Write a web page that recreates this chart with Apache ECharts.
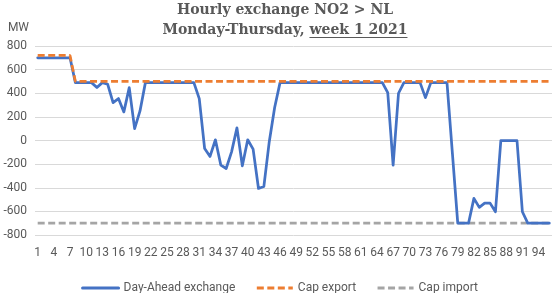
<!DOCTYPE html>
<html><head><meta charset="utf-8">
<script src="https://cdn.jsdelivr.net/npm/echarts@6/dist/echarts.min.js"></script>
<style>html,body{margin:0;padding:0;background:#fff}#c{width:559px;height:293px}</style>
</head><body><div id="c"></div>
<script>
const hours = Array.from({length: 96}, (_, i) => String(i + 1));
const dayAhead = [
  700,700,700,700,700,700,700,
  490,490,490,490,448,490,476,321,355,242,448,101,250,
  490,490,490,490,490,490,490,490,490,490,
  355,-68,-135,6,-208,-237,-96,107,-214,6,-73,-406,-389,-10,279,
  490,490,490,490,490,490,490,490,490,490,490,490,490,490,490,490,490,490,490,490,
  405,-208,400,490,490,490,490,363,490,490,490,490,-105,
  -700,-700,-700,-490,-566,-530,-530,-603,0,0,0,0,-603,
  -700,-700,-700,-700,-700
];
const capExport = hours.map((h, i) => i < 7 ? 720 : 500);
const capImport = hours.map(() => -700);
const yTicks = { min: -800, max: 800, step: 200 };

const FONT = 'Roboto';
const TFONT = '"DejaVu Serif"';
const line2 = 'Monday-Thursday, ';
const line2u = 'week 1 2021';
const TSIZE = 14;

const chart = echarts.init(document.getElementById('c'));
const cv = document.createElement('canvas').getContext('2d');
cv.font = 'bold ' + TSIZE + 'px ' + TFONT;
const wAll = cv.measureText(line2 + line2u).width;
const wPre = cv.measureText(line2).width;
const cx = 285;
const ux0 = cx - wAll / 2 + wPre, ux1 = cx + wAll / 2;

chart.setOption({
  animation: false,
  title: {
    left: cx, top: 0, padding: 0, textAlign: 'center',
    text: 'Hourly exchange NO2 > NL\n' + line2 + '{u|' + line2u + '}',
    textStyle: { fontFamily: TFONT, fontSize: TSIZE, fontWeight: 'bold', color: '#595959', lineHeight: 20,
      rich: { u: { fontFamily: TFONT, fontSize: TSIZE, fontWeight: 'bold', color: '#595959', lineHeight: 20 } } }
  },
  graphic: [{ type: 'line', shape: { x1: ux0, y1: 37.5, x2: ux1, y2: 37.5 }, style: { stroke: '#595959', lineWidth: 1 } }],
  grid: { left: 35, right: 7, top: 46, bottom: 58, containLabel: false },
  legend: {
    top: 277, left: 'center', itemWidth: 36, itemHeight: 12, itemGap: 20,
    lineStyle: { width: 3 }, itemStyle: { opacity: 0 },
    textStyle: { fontFamily: FONT, fontSize: 12, color: '#595959' },
    data: ['Day-Ahead exchange', 'Cap export', 'Cap import']
  },
  xAxis: {
    type: 'category', data: hours, boundaryGap: true,
    axisLine: { show: false }, axisTick: { show: false },
    axisLabel: { interval: 2, fontFamily: FONT, fontSize: 12, color: '#595959', margin: 12, hideOverlap: false }
  },
  yAxis: {
    type: 'value', min: yTicks.min, max: yTicks.max, interval: yTicks.step,
    name: 'MW', nameLocation: 'end', nameGap: 12,
    nameTextStyle: { fontFamily: FONT, fontSize: 12, color: '#595959', align: 'right', padding: [0, 6, 0, 0] },
    axisLine: { show: false }, axisTick: { show: false },
    axisLabel: { fontFamily: FONT, fontSize: 12, color: '#595959', margin: 8 },
    splitLine: { lineStyle: { color: '#d9d9d9', width: 1 } }
  },
  series: [
    { name: 'Day-Ahead exchange', type: 'line', data: dayAhead, symbol: 'none', z: 3,
      lineStyle: { color: '#4472C4', width: 2.75, cap: 'round', join: 'round' }, itemStyle: { color: '#4472C4' } },
    { name: 'Cap export', type: 'line', data: capExport, symbol: 'none', z: 4,
      lineStyle: { color: '#ED7D31', width: 2.75, type: [7, 3.5] }, itemStyle: { color: '#ED7D31' } },
    { name: 'Cap import', type: 'line', data: capImport, symbol: 'none', z: 2,
      lineStyle: { color: '#A5A5A5', width: 2.75, type: [7, 3.5] }, itemStyle: { color: '#A5A5A5' } }
  ]
});
</script></body></html>
